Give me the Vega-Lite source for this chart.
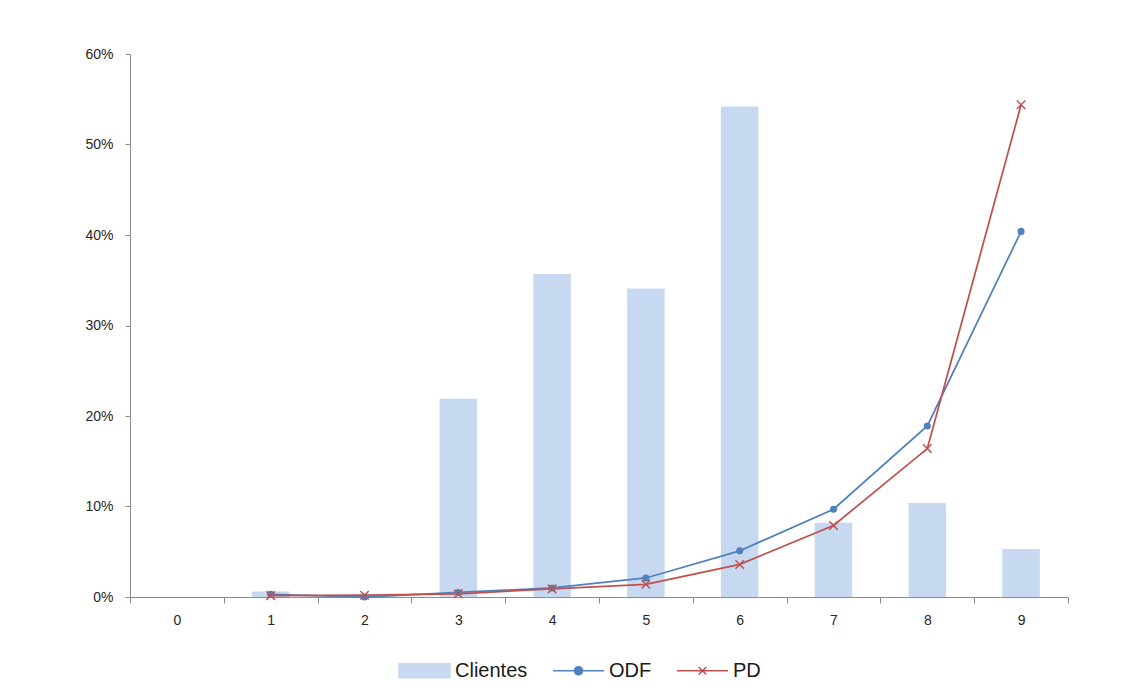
{
  "$schema": "https://vega.github.io/schema/vega-lite/v6.json",
  "width": 938,
  "height": 543,
  "autosize": {"type": "none"},
  "padding": {"left": 130, "top": 54, "right": 70, "bottom": 94},
  "background": "white",
  "config": {
    "view": {"stroke": null},
    "font": "Liberation Sans",
    "axis": {"labelFont": "Liberation Sans", "labelColor": "#262626", "labelFontSize": 14, "domainColor": "#8c8c8c", "tickColor": "#8c8c8c", "grid": false, "title": null}
  },
  "data": {
    "values": [
      {"x": "1", "serie": "Clientes", "v": 0.006},
      {"x": "2", "serie": "Clientes", "v": 0.0},
      {"x": "3", "serie": "Clientes", "v": 0.219},
      {"x": "4", "serie": "Clientes", "v": 0.357},
      {"x": "5", "serie": "Clientes", "v": 0.341},
      {"x": "6", "serie": "Clientes", "v": 0.542},
      {"x": "7", "serie": "Clientes", "v": 0.082},
      {"x": "8", "serie": "Clientes", "v": 0.104},
      {"x": "9", "serie": "Clientes", "v": 0.053},
      {"x": "1", "serie": "ODF", "v": 0.003},
      {"x": "2", "serie": "ODF", "v": 0.0},
      {"x": "3", "serie": "ODF", "v": 0.005},
      {"x": "4", "serie": "ODF", "v": 0.010},
      {"x": "5", "serie": "ODF", "v": 0.021},
      {"x": "6", "serie": "ODF", "v": 0.051},
      {"x": "7", "serie": "ODF", "v": 0.097},
      {"x": "8", "serie": "ODF", "v": 0.189},
      {"x": "9", "serie": "ODF", "v": 0.404},
      {"x": "1", "serie": "PD", "v": 0.0015},
      {"x": "2", "serie": "PD", "v": 0.002},
      {"x": "3", "serie": "PD", "v": 0.0035},
      {"x": "4", "serie": "PD", "v": 0.009},
      {"x": "5", "serie": "PD", "v": 0.014},
      {"x": "6", "serie": "PD", "v": 0.036},
      {"x": "7", "serie": "PD", "v": 0.079},
      {"x": "8", "serie": "PD", "v": 0.164},
      {"x": "9", "serie": "PD", "v": 0.544}
    ]
  },
  "encoding": {
    "x": {
      "field": "x", "type": "nominal",
      "scale": {"domain": ["0","1","2","3","4","5","6","7","8","9"], "paddingInner": 0, "paddingOuter": 0},
      "axis": {"labelAngle": 0, "tickBand": "extent", "tickSize": 6, "labelPadding": 10, "labelFontSize": 14}
    },
    "y": {
      "field": "v", "type": "quantitative",
      "scale": {"domain": [0, 0.6], "nice": false},
      "axis": {"format": ".0%", "values": [0, 0.1, 0.2, 0.3, 0.4, 0.5, 0.6], "tickSize": 5, "labelPadding": 12}
    },
    "color": {
      "field": "serie", "type": "nominal",
      "scale": {"domain": ["Clientes", "ODF", "PD"], "range": ["#C6D9F1", "#4F81BD", "#C0504D"]},
      "legend": {
        "orient": "none", "legendX": 268, "legendY": 590, "direction": "horizontal", "title": null,
        "labelFontSize": 20, "labelColor": "#1a1a1a", "labelOffset": 4, "columnPadding": 22, "symbolSize": 2601,
        "encode": {
          "symbols": {
            "update": {
              "shape": {"signal": "datum.value === 'Clientes' ? 'M-1,-0.27H1V0.27H-1Z' : datum.value === 'ODF' ? 'M-1,0H1M0.16,0A0.16,0.16 0 1,1 -0.16,0A0.16,0.16 0 1,1 0.16,0Z' : 'M-1,0H1M-0.15,-0.15L0.15,0.15M-0.15,0.15L0.15,-0.15'"},
              "fill": {"signal": "datum.value === 'Clientes' ? '#C6D9F1' : datum.value === 'ODF' ? '#4F81BD' : 'transparent'"},
              "stroke": {"signal": "datum.value === 'Clientes' ? 'transparent' : datum.value === 'ODF' ? '#4F81BD' : '#C0504D'"},
              "strokeWidth": {"value": 1.5},
              "opacity": {"value": 1}
            }
          }
        }
      }
    }
  },
  "layer": [
    {
      "transform": [{"filter": "datum.serie === 'Clientes'"}],
      "mark": {"type": "bar", "opacity": 1, "width": {"band": 0.4}}
    },
    {
      "transform": [{"filter": "datum.serie !== 'Clientes'"}],
      "mark": {"type": "line", "interpolate": "linear", "strokeWidth": 1.75}
    },
    {
      "transform": [{"filter": "datum.serie === 'ODF'"}],
      "mark": {"type": "point", "shape": "circle", "filled": true, "size": 50, "opacity": 1}
    },
    {
      "transform": [{"filter": "datum.serie === 'PD'"}],
      "mark": {"type": "point", "shape": "M-1,-1L1,1M-1,1L1,-1", "filled": false, "size": 72, "strokeWidth": 1.5, "opacity": 1}
    }
  ]
}
